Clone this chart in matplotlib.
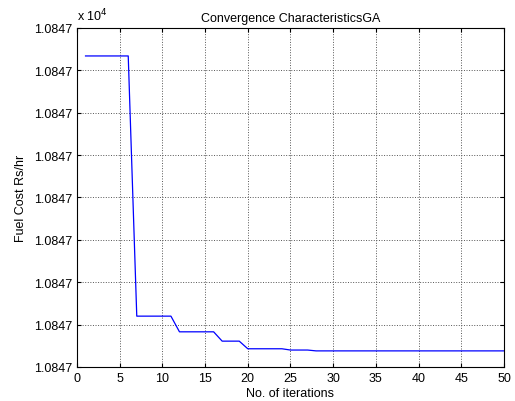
import matplotlib
matplotlib.use("Agg")
from matplotlib import pyplot as plt
from matplotlib.ticker import FuncFormatter

plt.rcParams['font.family'] = ['Liberation Sans', 'DejaVu Sans']

# iterations and fuel cost (Rs/hr), values near 1.0847e4
iterations = list(range(1, 51))
fuel_cost = ([10847.3734] * 6 + [10847.3120] * 5 + [10847.3083] * 5 + [10847.3061] * 3
             + [10847.3043] * 5 + [10847.3040] * 3 + [10847.3038] * 23)

y_ticks = [10847.30 + 0.01 * i for i in range(9)]
x_ticks = list(range(0, 51, 5))

fig = plt.figure(figsize=(5.15, 4.02), dpi=100)
ax = fig.add_axes([0.1495, 0.0846, 0.8291, 0.8433])

ax.plot(iterations, fuel_cost, color='#0000ff', linewidth=0.9)

ax.set_xlim(0, 50)
ax.set_ylim(y_ticks[0], y_ticks[-1])
ax.set_xticks(x_ticks)
ax.set_yticks(y_ticks)
ax.yaxis.set_major_formatter(FuncFormatter(lambda v, p: '%.4f' % (v / 1e4)))

ax.grid(True, linestyle=':', color='#555555', linewidth=0.7)
ax.tick_params(direction='in', top=True, right=True, labelsize=9, length=3, pad=3.5)
for s in ax.spines.values():
    s.set_linewidth(0.8)

ax.text(0, 1.015, r'x 10$^4$', transform=ax.transAxes, fontsize=9, ha='left', va='bottom')
ax.set_title('Convergence CharacteristicsGA', fontsize=9, pad=5)
ax.set_xlabel('No. of iterations', fontsize=9, labelpad=2)
ax.set_ylabel('Fuel Cost Rs/hr', fontsize=9, labelpad=5)

plt.savefig('out.png', dpi=100)
